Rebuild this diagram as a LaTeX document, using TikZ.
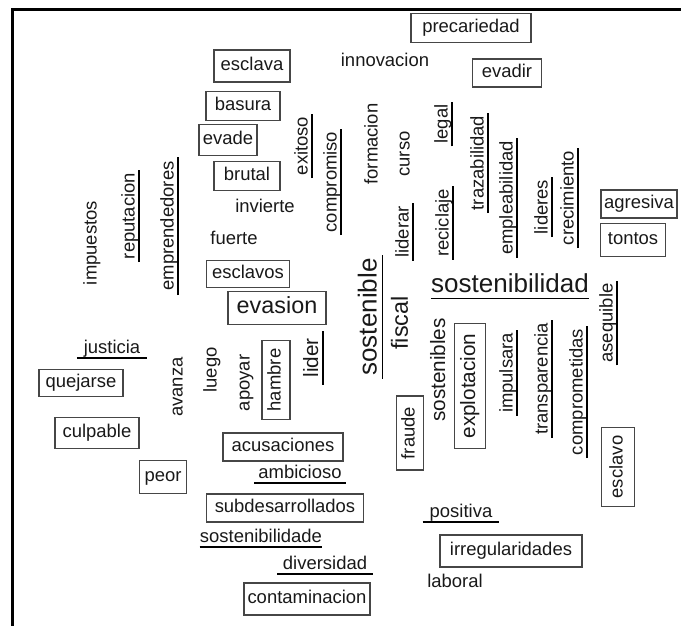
\documentclass[tikz,border=0pt]{standalone}
\usepackage{fontspec}
\setmainfont{Liberation Sans}
\usetikzlibrary{positioning}
\definecolor{boxline}{RGB}{70,70,70}
\definecolor{wordink}{RGB}{25,25,25}

\begin{document}
\begin{tikzpicture}[x=0.02cm,y=-0.02cm,
  every node/.style={inner sep=0pt,text=wordink,
    font=\fontsize{10.5}{12}\selectfont,text height=7.6pt,text depth=2.3pt},
  wdm/.style={font=\fontsize{11.8}{14}\selectfont,text height=8.5pt,text depth=2.6pt},
  wdl/.style={font=\fontsize{13.3}{16}\selectfont,text height=9.6pt,text depth=2.9pt},
  wdx/.style={font=\fontsize{14.8}{18}\selectfont,text height=10.7pt,text depth=3.3pt},
  wbox/.style 2 args={draw=boxline,line width=0.6pt,
    minimum width=#1*0.02cm,minimum height=#2*0.02cm},
  ul/.style={inner ysep=0pt,inner xsep=1.5pt},
  vert/.style={rotate=90},
  ulline/.style={line width=0.8pt,black}
]
\useasboundingbox (0,0) rectangle (681,626);

% the frame
\draw[line width=1.4pt] (12.5,626) -- (12.5,9.5) -- (681,9.5);

% the boxed words
\node[wbox={76}{32}] (esclava) at (252,66) {esclava};
\node[wbox={74}{29}] (basura) at (243,106) {basura};
\node[wbox={58}{31}] (evade) at (228,140) {evade};
\node[wbox={66}{29}] (brutal) at (247,176) {brutal};
\node[wbox={83}{27}] (esclavos) at (248,274) {esclavos};
\node[wdl,wbox={98}{33}] (evasion) at (277,308) {evasion};
\node[wbox={120}{29}] (precariedad) at (471,28) {precariedad};
\node[wbox={69}{28}] (evadir) at (507,73) {evadir};
\node[wbox={76}{28}] (agresiva) at (639,204) {agresiva};
\node[wbox={65}{33}] (tontos) at (633,240) {tontos};
\node[wbox={84}{27}] (quejarse) at (81,383) {quejarse};
\node[wbox={84}{31}] (culpable) at (97,433) {culpable};
\node[wbox={47}{33}] (peor) at (163,477) {peor};
\node[vert,wbox={79}{28}] (hambre) at (276,380) {hambre};
\node[wbox={120}{28}] (acusaciones) at (283,447) {acusaciones};
\node[wbox={157}{28}] (subdesarrollados) at (285,508) {subdesarrollados};
\node[wbox={126}{32}] (contaminacion) at (307,599) {contaminacion};
\node[vert,wbox={74}{27}] (fraude) at (410,433) {fraude};
\node[vert,wdm,wbox={125}{31}] (explotacion) at (470,386) {explotacion};
\node[wbox={142}{32}] (irregularidades) at (511,551) {irregularidades};
\node[vert,wbox={79}{33}] (esclavo) at (618,467) {esclavo};

% the plain words
\node (invierte) at (265,208) {invierte};
\node (fuerte) at (234,240) {fuerte};
\node (innovacion) at (385,62) {innovacion};
\node (laboral) at (455,583) {laboral};
\node[vert] (impuestos) at (92,243) {impuestos};
\node[vert] (formacion) at (373,144) {formacion};
\node[vert] (curso) at (405,154) {curso};
\node[vert,wdl] (fiscal) at (402,323) {fiscal};
\node[vert,wdm] (sostenibles) at (440,370) {sostenibles};
\node[vert] (avanza) at (178,387) {avanza};
\node[vert] (luego) at (212,370) {luego};
\node[vert] (apoyar) at (245,383) {apoyar};

% the underlined words
\node[vert,ul] (exitoso) at (303,146) {exitoso};
\node[vert,ul] (compromiso) at (332,182) {compromiso};
\node[vert,ul] (reputacion) at (130,216) {reputacion};
\node[vert,ul,inner xsep=2.3pt] (emprendedores) at (169,226) {emprendedores};
\node[vert,ul] (legal) at (443,124) {legal};
\node[vert,ul] (trazabilidad) at (479,163) {trazabilidad};
\node[vert,ul] (empleabilidad) at (508,198) {empleabilidad};
\node[vert,ul] (lideres) at (543,207) {lideres};
\node[vert,ul] (crecimiento) at (569,198) {crecimiento};
\node[vert,ul] (liderar) at (404,232) {liderar};
\node[vert,ul] (reciclaje) at (444,223) {reciclaje};
\node[wdx,ul,inner xsep=0pt] (sostenibilidad) at (510,286) {sostenibilidad};
\node[vert,ul] (asequible) at (608,323) {asequible};
\node[vert,ul] (comprometidas) at (578,392) {comprometidas};
\node[vert,wdx,ul] (sostenible) at (370,317) {sostenible};
\node[vert,ul] (impulsara) at (508,373) {impulsara};
\node[vert,ul] (transparencia) at (543,379) {transparencia};
\node[vert,wdm,ul,inner xsep=3.8pt] (lider) at (313,358) {lider};
\node[ul,inner xsep=3.8pt] (positiva) at (461,513) {positiva};
\node[ul,inner xsep=3.8pt] (justicia) at (112,349) {justicia};
\node[ul,inner xsep=2.3pt] (ambicioso) at (300,474) {ambicioso};
\node[ul,inner xsep=0pt] (sostenibilidade) at (261,538) {sostenibilidade};
\node[ul,inner xsep=3.1pt] (diversidad) at (325,565) {diversidad};

% the underlines
\foreach \w in {exitoso,compromiso,reputacion,emprendedores,legal,
    trazabilidad,empleabilidad,lideres,crecimiento,liderar,reciclaje,
    sostenibilidad,asequible,comprometidas,sostenible,impulsara,
    transparencia,lider,positiva,justicia,ambicioso,sostenibilidade,diversidad}
  \draw[ulline] (\w.south west) -- (\w.south east);
\end{tikzpicture}
\end{document}
